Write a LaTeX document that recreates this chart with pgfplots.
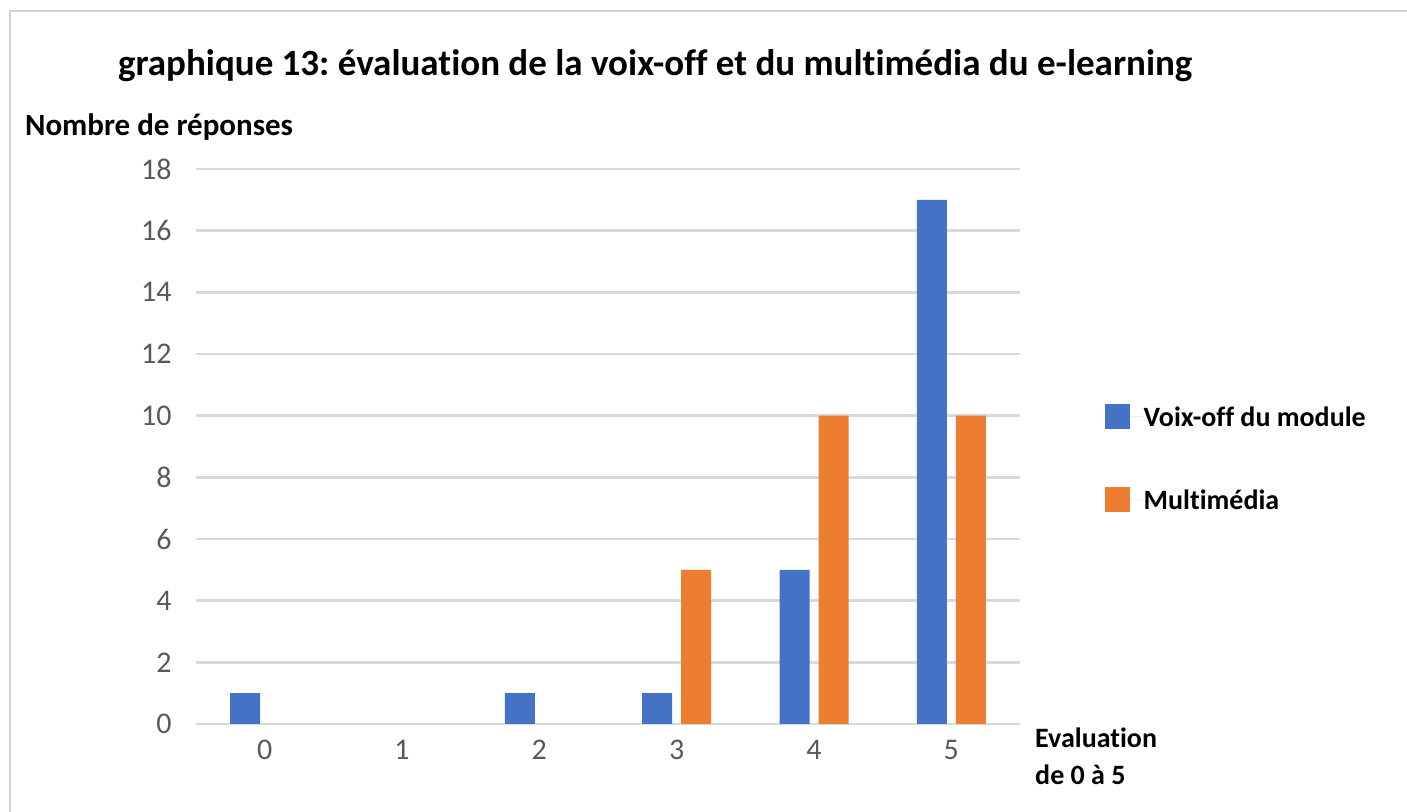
\documentclass[border=0pt]{standalone}
\usepackage{pgfplots}
\pgfplotsset{compat=1.18}
\usepackage{fontspec}
\setmainfont{Carlito}[Ligatures={NoCommon}]
\frenchspacing
\definecolor{cblue}{RGB}{68,114,196}
\definecolor{corange}{RGB}{237,125,49}
\definecolor{cgrid}{RGB}{217,217,217}
\definecolor{ctick}{RGB}{89,89,89}
\definecolor{cframe}{RGB}{210,210,210}
\begin{document}
\begin{tikzpicture}
\path[use as bounding box] (0,0) rectangle (703.5pt,406pt);
\draw[cframe, line width=1.2pt] (5pt,0) -- (5pt,400.5pt) -- (703.5pt,400.5pt);
\begin{axis}[
  at={(98pt,44pt)}, anchor=south west,
  scale only axis, width=412pt, height=277.5pt,
  xmin=-0.5, xmax=5.5, ymin=0, ymax=18,
  ybar=4.5pt, bar width=15pt,
  xtick={0,1,2,3,4,5}, ytick={0,2,...,18},
  axis line style={draw=none},
  major tick length=0pt,
  ymajorgrids, grid style={cgrid, line width=1.2pt},
  tick label style={font=\fontsize{15}{17}\selectfont, text=ctick, inner sep=0pt},
  /pgf/number format/assume math mode=true,
  yticklabel style={xshift=-12pt},
  xticklabel style={yshift=-8pt},
  legend style={draw=none, fill=none, at={(axis description cs:1.095,0.585)}, anchor=north west,
    font=\bfseries\fontsize{14}{16}\selectfont, row sep=29pt, nodes={inner sep=0pt, text depth=0pt},
    legend cell align=left},
  legend image code/.code={\fill[#1] (0pt,-6.25pt) rectangle (12.5pt,6.25pt); \path (0pt,0pt) -- (19.5pt,0pt);},
  clip=false,
]
\addplot[fill=cblue, draw=none] coordinates {(0,1) (2,1) (3,1) (4,5) (5,17)};
\addplot[fill=corange, draw=none] coordinates {(3,5) (4,10) (5,10)};
\legend{Voix-off du module, Multimédia}
\node[anchor=base west, font=\bfseries\fontsize{18.5}{22}\selectfont] at (rel axis cs:-0.1032,1.169) {graphique 13: évaluation de la voix-off et du multimédia du e-learning};
\node[anchor=base west, font=\bfseries\fontsize{15.5}{18}\selectfont] at (rel axis cs:-0.216,1.06) {Nombre de réponses};
\node[anchor=north west, align=left, inner sep=0pt, font=\bfseries\fontsize{14}{18.5}\selectfont] at (rel axis cs:1.018,-0.007) {Evaluation\\de 0 à 5};
\end{axis}
\end{tikzpicture}
\end{document}
